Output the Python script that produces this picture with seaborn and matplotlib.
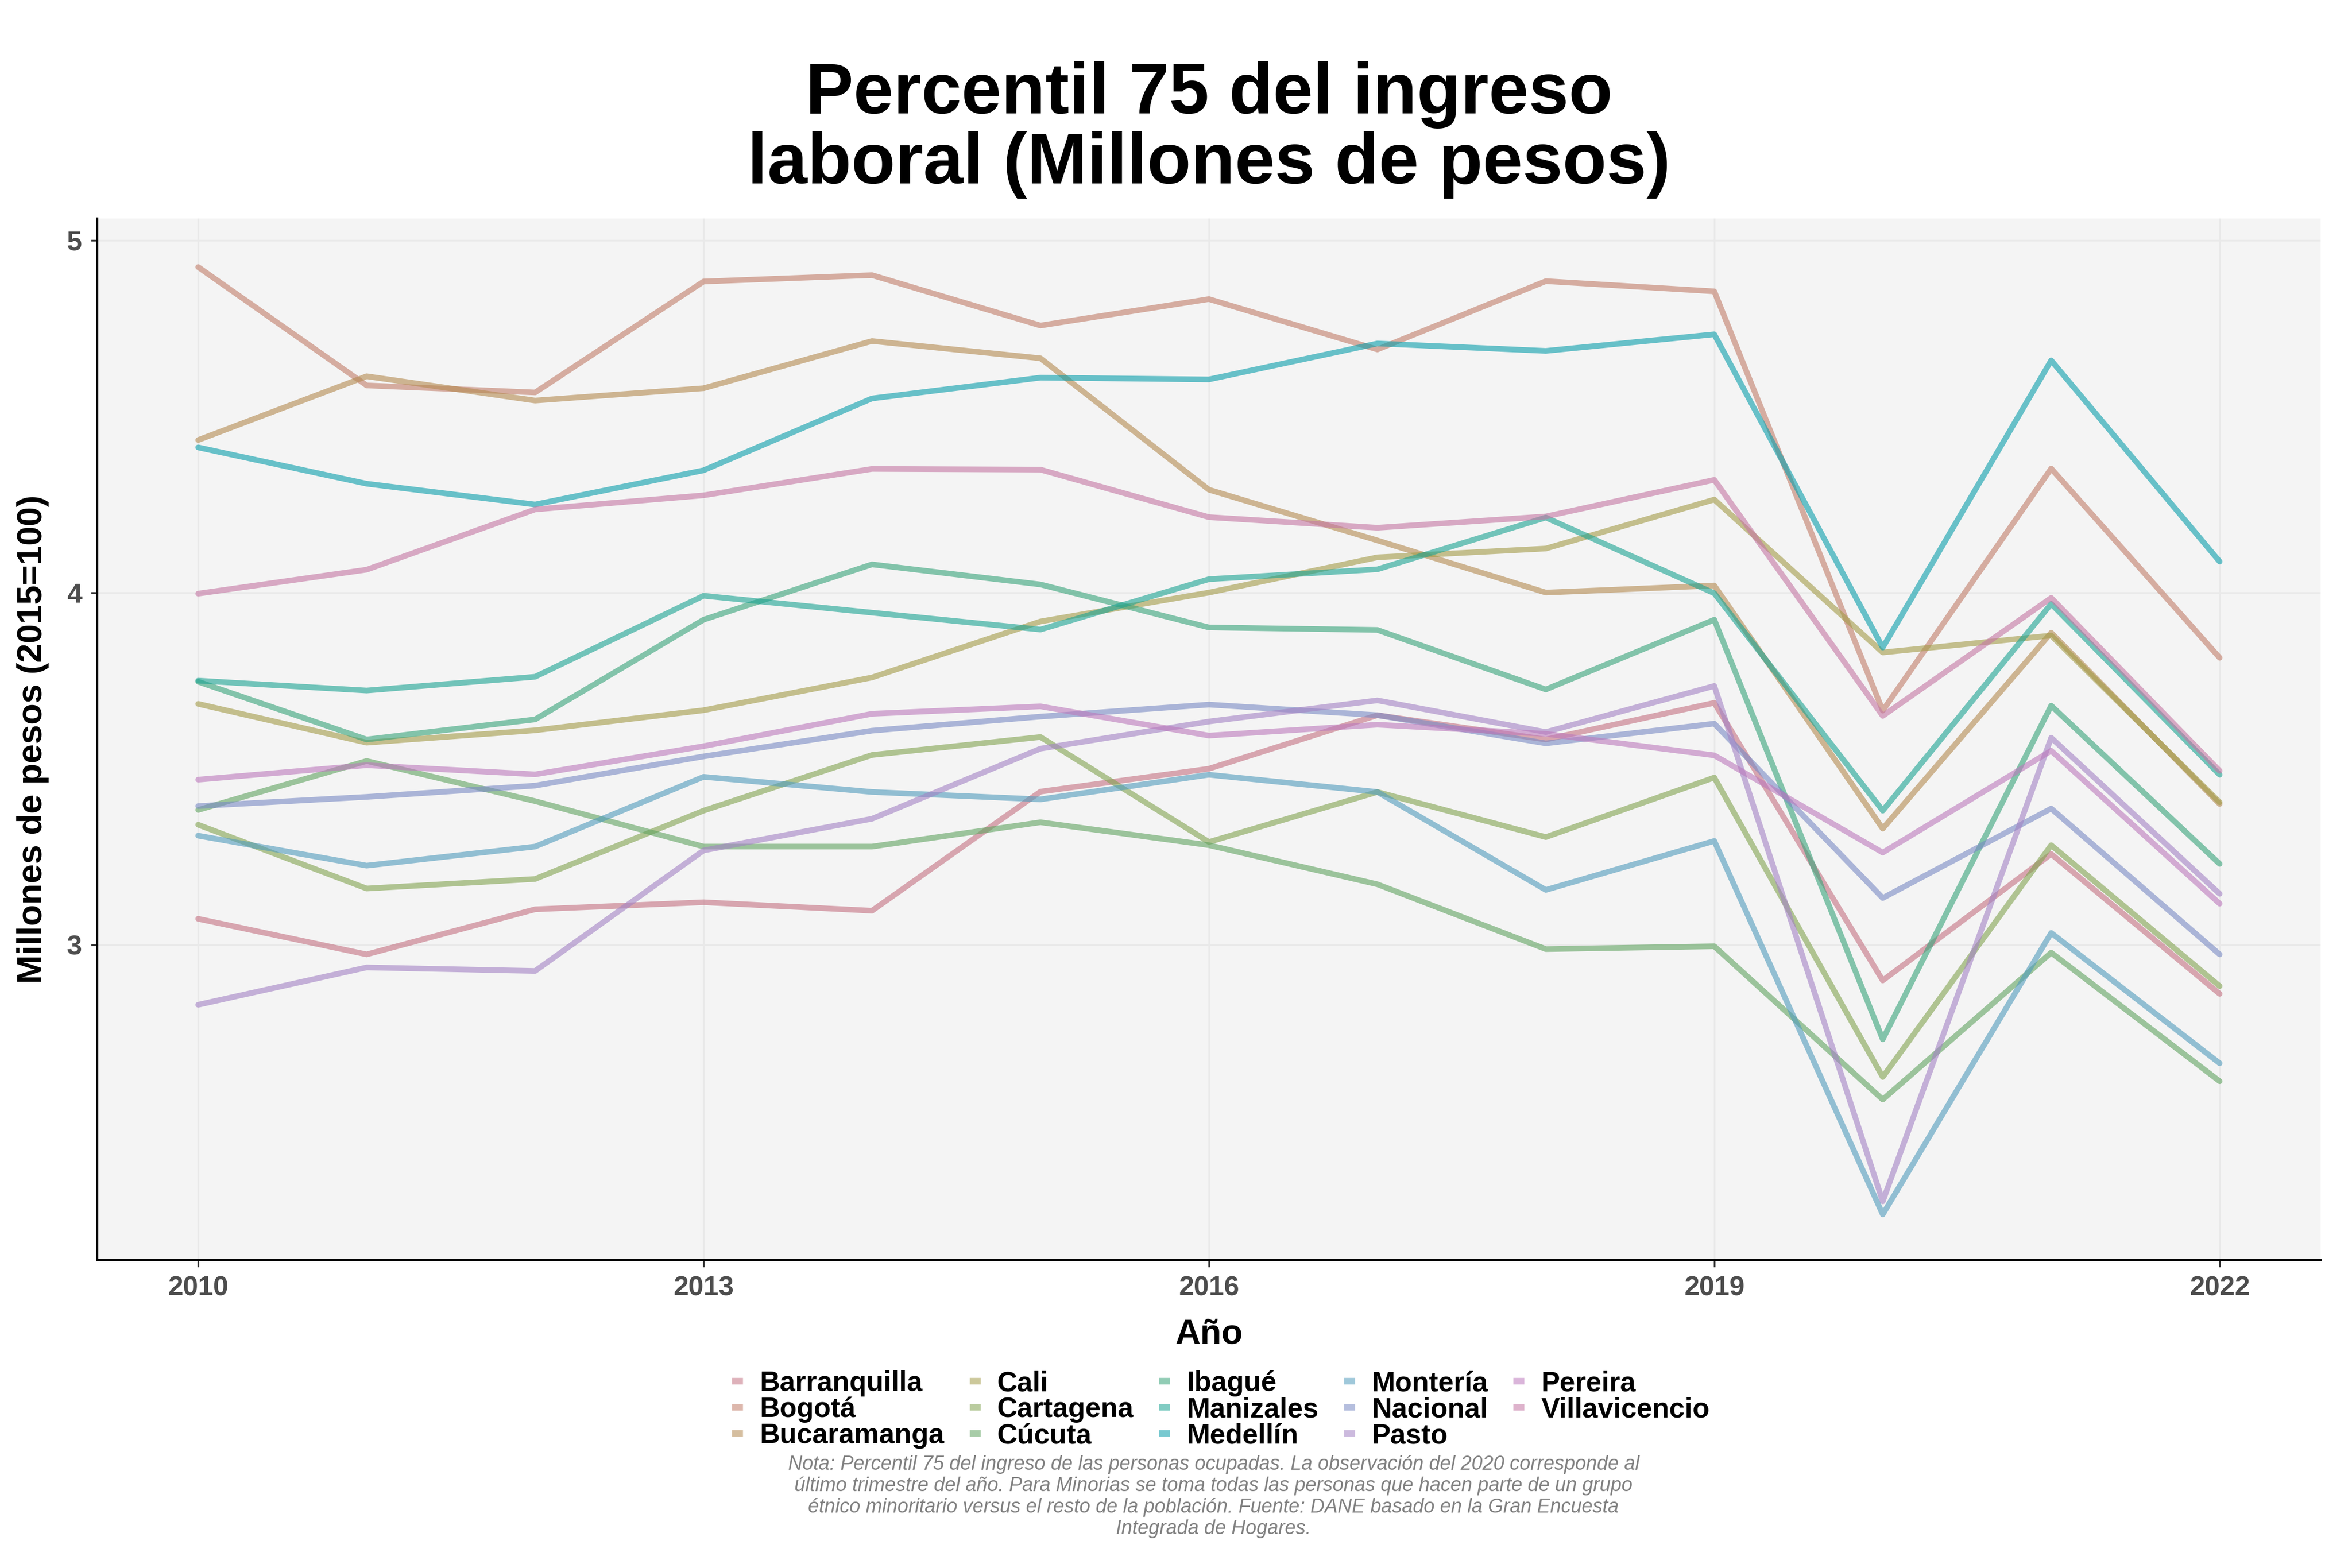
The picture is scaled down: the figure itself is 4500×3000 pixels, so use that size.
import matplotlib
matplotlib.use("Agg")
import matplotlib.pyplot as plt
import seaborn as sns
import pandas as pd

# Datos (millones de pesos, 2015=100)
years = list(range(2010, 2023))

barranquilla = [3.074, 2.973, 3.101, 3.121, 3.097, 3.435, 3.500, 3.652, 3.583, 3.687, 2.899, 3.258, 2.861]
bogota = [4.924, 4.588, 4.568, 4.883, 4.901, 4.758, 4.833, 4.690, 4.884, 4.855, 3.665, 4.352, 3.815]
bucaramanga = [4.433, 4.614, 4.545, 4.580, 4.714, 4.665, 4.292, 4.148, 4.000, 4.020, 3.330, 3.886, 3.400]
cali = [3.684, 3.574, 3.609, 3.666, 3.759, 3.918, 4.000, 4.100, 4.125, 4.264, 3.830, 3.878, 3.405]
cartagena = [3.341, 3.160, 3.187, 3.381, 3.539, 3.590, 3.292, 3.434, 3.306, 3.475, 2.625, 3.283, 2.883]
cucuta = [3.383, 3.522, 3.408, 3.279, 3.279, 3.348, 3.283, 3.172, 2.988, 2.996, 2.561, 2.978, 2.613]
ibague = [3.747, 3.583, 3.640, 3.923, 4.080, 4.023, 3.901, 3.894, 3.725, 3.923, 2.732, 3.679, 3.230]
manizales = [3.750, 3.722, 3.761, 3.991, 3.943, 3.895, 4.038, 4.066, 4.213, 3.998, 3.381, 3.968, 3.483]
medellin = [4.412, 4.309, 4.250, 4.347, 4.551, 4.610, 4.605, 4.707, 4.686, 4.733, 3.844, 4.659, 4.088]
monteria = [3.310, 3.225, 3.279, 3.477, 3.434, 3.413, 3.483, 3.434, 3.156, 3.295, 2.235, 3.034, 2.664]
nacional = [3.394, 3.420, 3.452, 3.535, 3.608, 3.648, 3.682, 3.652, 3.572, 3.628, 3.133, 3.387, 2.973]
pasto = [2.830, 2.936, 2.926, 3.268, 3.358, 3.557, 3.634, 3.694, 3.604, 3.735, 2.272, 3.588, 3.145]
pereira = [3.469, 3.510, 3.484, 3.564, 3.656, 3.677, 3.594, 3.625, 3.599, 3.538, 3.262, 3.551, 3.117]
villavicencio = [3.997, 4.065, 4.236, 4.276, 4.351, 4.349, 4.214, 4.184, 4.216, 4.320, 3.650, 3.985, 3.494]

cities = ["Barranquilla", "Bogotá", "Bucaramanga", "Cali", "Cartagena", "Cúcuta", "Ibagué",
          "Manizales", "Medellín", "Montería", "Nacional", "Pasto", "Pereira", "Villavicencio"]
series = [barranquilla, bogota, bucaramanga, cali, cartagena, cucuta, ibague,
          manizales, medellin, monteria, nacional, pasto, pereira, villavicencio]
colors = ["#C47182", "#C17D69", "#B48A50", "#A39B47", "#82A350", "#60A360", "#37A379",
          "#1AA392", "#0A9EAB", "#509BBC", "#798AC4", "#A382C4", "#BC79BC", "#C476A3"]

rows = []
for city, vals in zip(cities, series):
    for y, v in zip(years, vals):
        rows.append({"Año": y, "valor": v, "Ciudad": city})
df = pd.DataFrame(rows)
palette = dict(zip(cities, colors))

sns.set_theme(style="white")
plt.rcParams['font.family'] = ['Liberation Sans', 'DejaVu Sans']
plt.rcParams['text.color'] = 'black'
plt.rcParams['axes.labelcolor'] = 'black'

fig = plt.figure(figsize=(15, 10), dpi=300)
ax = fig.add_axes([0.0413, 0.1963, 0.9454, 0.6644])
ax.set_facecolor("#F4F4F4")

sns.lineplot(data=df, x="Año", y="valor", hue="Ciudad", hue_order=cities,
             palette=palette, linewidth=2.6, alpha=0.6, ax=ax)

ax.set_xlim(2009.4, 2022.6)
ax.set_ylim(2.105, 5.062)
ax.set_xticks([2010, 2013, 2016, 2019, 2022])
ax.set_yticks([3, 4, 5])
ax.grid(True, color="#E9E9E9", linewidth=0.8)
ax.set_axisbelow(True)

for s in ["top", "right"]:
    ax.spines[s].set_visible(False)
for s in ["left", "bottom"]:
    ax.spines[s].set_color("black")
    ax.spines[s].set_linewidth(1.0)

ax.tick_params(axis="both", labelsize=12.5, labelcolor="#4D4D4D", color="#333333",
               length=3, width=0.8, left=True, bottom=True, pad=4)
for lab in ax.get_xticklabels() + ax.get_yticklabels():
    lab.set_fontweight("bold")

ax.set_xlabel("Año", fontsize=16, fontweight="bold", labelpad=8, color="black")
ax.set_ylabel("Millones de pesos (2015=100)", fontsize=16, fontweight="bold", labelpad=8,
              color="black")

fig.text(0.514, 0.917, "Percentil 75 del ingreso\nlaboral (Millones de pesos)",
         ha="center", va="center", fontsize=33, fontweight="bold", linespacing=1.05,
         color="black")

handles, labels = ax.get_legend_handles_labels()
ax.get_legend().remove()
for h in handles:
    h.set_alpha(0.55)
    h.set_linewidth(3)
    h.set_solid_capstyle("butt")
leg = fig.legend(handles, labels, ncol=5, loc="center", bbox_to_anchor=(0.519, 0.101),
                 frameon=False, prop={"weight": "bold", "size": 12.8}, handlelength=0.4,
                 handletextpad=0.6, columnspacing=0.9, labelspacing=0.0)
for t in leg.get_texts():
    t.set_color("black")

nota = ("Nota: Percentil 75 del ingreso de las personas ocupadas. La observación del 2020 corresponde al\n"
        "último trimestre del año. Para Minorias se toma todas las personas que hacen parte de un grupo\n"
        "étnico minoritario versus el resto de la población. Fuente: DANE basado en la Gran Encuesta\n"
        "Integrada de Hogares.")
fig.text(0.516, 0.0455, nota, ha="center", va="center", fontsize=9, style="italic",
         color="#808080", linespacing=1.18)

fig.savefig("out.png", dpi=300)
